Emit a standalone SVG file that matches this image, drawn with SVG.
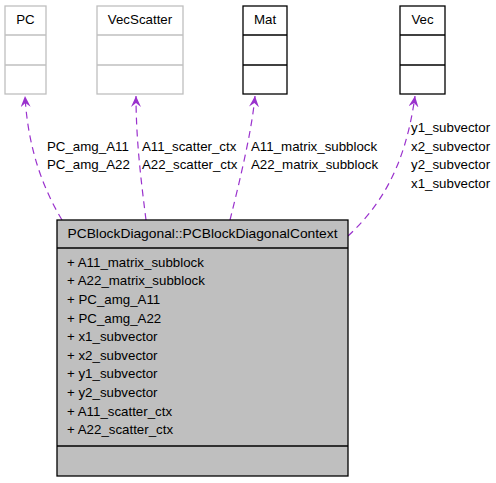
<svg xmlns="http://www.w3.org/2000/svg" width="496" height="483" viewBox="0 0 496 483">
<style>
text{font-family:"Liberation Sans",Arial,sans-serif;font-size:13.3px;fill:#000}
.grey rect,.grey line{stroke:#bfbfbf;fill:#fff;stroke-width:1.3}
.blk rect,.blk line{stroke:#000;fill:#fff;stroke-width:1.3}
.main rect,.main line{stroke:#000;fill:#bfbfbf;stroke-width:1.3}
.edge{fill:none;stroke:#9a32cd;stroke-width:1.2;stroke-dasharray:7,5}
</style>
<defs>
<marker id="arr" viewBox="0 0 12 10" refX="11" refY="5" markerWidth="12" markerHeight="10" markerUnits="userSpaceOnUse" orient="auto">
<path d="M0,0 L11,5 L0,10 L4,5 z" fill="#9a32cd"/>
</marker>
</defs>
<g id="edges">
<path class="edge" d="M62,220 C44,190 28,150 25,96" marker-end="url(#arr)"/>
<path class="edge" d="M146,220 C141,180 136,140 136,96" marker-end="url(#arr)"/>
<path class="edge" d="M230,220 C240,180 252,130 255,96" marker-end="url(#arr)"/>
<path class="edge" d="M348,236 C378,208 405,170 415,96" marker-end="url(#arr)"/>
<text x="47" y="151">PC_amg_A11</text>
<text x="47" y="169">PC_amg_A22</text>
<text x="142" y="151">A11_scatter_ctx</text>
<text x="142" y="169">A22_scatter_ctx</text>
<text x="251" y="151">A11_matrix_subblock</text>
<text x="251" y="169">A22_matrix_subblock</text>
<text x="411" y="132">y1_subvector</text>
<text x="411" y="151">x2_subvector</text>
<text x="411" y="169">y2_subvector</text>
<text x="411" y="188">x1_subvector</text>
</g>
<g id="PC" class="grey">
<rect x="5" y="6" width="41" height="88"/>
<line x1="5" y1="35" x2="46" y2="35"/>
<line x1="5" y1="65" x2="46" y2="65"/>
<text x="25.5" y="24" text-anchor="middle">PC</text>
</g>
<g id="VecScatter" class="grey">
<rect x="97" y="6" width="86" height="88"/>
<line x1="97" y1="35" x2="183" y2="35"/>
<line x1="97" y1="65" x2="183" y2="65"/>
<text x="140" y="24" text-anchor="middle">VecScatter</text>
</g>
<g id="Mat" class="blk">
<rect x="243" y="6" width="44" height="88"/>
<line x1="243" y1="35" x2="287" y2="35"/>
<line x1="243" y1="65" x2="287" y2="65"/>
<text x="265" y="24" text-anchor="middle">Mat</text>
</g>
<g id="Vec" class="blk">
<rect x="400" y="6" width="45" height="88"/>
<line x1="400" y1="35" x2="445" y2="35"/>
<line x1="400" y1="65" x2="445" y2="65"/>
<text x="422.5" y="24" text-anchor="middle">Vec</text>
</g>
<g id="PCBlockDiagonalContext" class="main">
<rect x="57" y="220" width="291" height="256"/>
<line x1="57" y1="248" x2="348" y2="248"/>
<line x1="57" y1="446" x2="348" y2="446"/>
<text x="202.5" y="238" text-anchor="middle" textLength="270" lengthAdjust="spacingAndGlyphs">PCBlockDiagonal::PCBlockDiagonalContext</text>
<text x="67" y="267">+ A11_matrix_subblock</text>
<text x="67" y="285">+ A22_matrix_subblock</text>
<text x="67" y="304">+ PC_amg_A11</text>
<text x="67" y="323">+ PC_amg_A22</text>
<text x="67" y="341">+ x1_subvector</text>
<text x="67" y="360">+ x2_subvector</text>
<text x="67" y="378">+ y1_subvector</text>
<text x="67" y="397">+ y2_subvector</text>
<text x="67" y="416">+ A11_scatter_ctx</text>
<text x="67" y="434">+ A22_scatter_ctx</text>
</g>
</svg>
